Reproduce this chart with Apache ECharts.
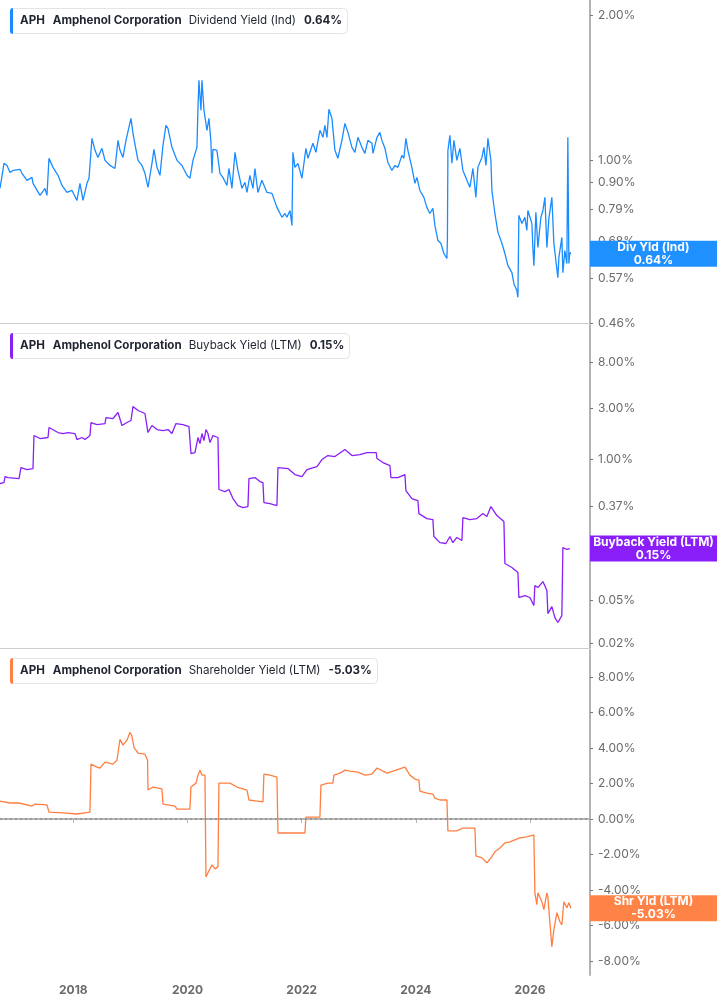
<!DOCTYPE html>
<html>
<head>
<meta charset="utf-8">
<title>APH yields</title>
<script src="https://cdn.jsdelivr.net/npm/echarts@6/dist/echarts.min.js"></script>
<style>
  html, body { margin: 0; padding: 0; background: #fff; }
  #chart { width: 717px; height: 1005px; }
</style>
</head>
<body>
<div id="chart"></div>
<script>
// [decimal year, yield %]
const divYield = [
  [2016.715,0.875],[2016.785,0.986],[2016.838,0.976],[2016.890,0.944],[2016.943,0.953],[2017.065,0.958],[2017.100,0.940],
  [2017.188,0.909],[2017.275,0.922],[2017.293,0.896],[2017.416,0.846],[2017.503,0.875],[2017.538,0.846],[2017.573,1.010],
  [2017.643,0.967],[2017.731,0.931],[2017.801,0.887],[2017.888,0.858],[2017.976,0.866],[2018.063,0.826],[2018.116,0.896],
  [2018.169,0.826],[2018.239,0.896],[2018.274,0.918],[2018.326,1.111],[2018.379,1.049],[2018.431,1.014],[2018.501,1.059],
  [2018.554,1.000],[2018.641,0.976],[2018.729,0.962],[2018.782,1.100],[2018.817,1.049],[2018.869,1.014],[2018.922,1.100],
  [2018.957,1.090],[2019.009,1.222],[2019.044,1.138],[2019.132,1.000],[2019.202,0.976],[2019.254,0.940],[2019.307,0.879],
  [2019.377,0.986],[2019.412,1.054],[2019.465,0.967],[2019.517,0.931],[2019.570,1.074],[2019.622,1.182],[2019.657,1.165],
  [2019.727,1.064],[2019.815,1.000],[2019.902,0.976],[2019.990,0.931],[2020.042,0.918],[2020.095,1.000],[2020.165,1.064],
  [2020.183,1.289],[2020.200,1.466],[2020.235,1.270],[2020.253,1.466],[2020.288,1.270],[2020.340,1.154],[2020.375,1.222],
  [2020.410,1.090],[2020.428,0.940],[2020.445,1.054],[2020.515,1.049],[2020.568,0.940],[2020.620,0.922],[2020.690,0.887],
  [2020.725,0.962],[2020.778,0.875],[2020.831,1.039],[2020.883,0.953],[2020.953,0.875],[2021.006,0.900],[2021.041,0.858],
  [2021.093,0.931],[2021.146,0.875],[2021.181,0.962],[2021.233,0.858],[2021.303,0.909],[2021.391,0.858],[2021.479,0.854],
  [2021.566,0.799],[2021.654,0.762],[2021.706,0.776],[2021.741,0.762],[2021.794,0.787],[2021.829,0.733],[2021.846,1.039],
  [2021.881,0.967],[2021.934,0.986],[2022.004,0.918],[2022.074,1.059],[2022.109,1.010],[2022.197,1.085],[2022.249,1.039],
  [2022.319,1.154],[2022.372,1.116],[2022.407,1.182],[2022.442,1.116],[2022.477,1.276],[2022.529,1.222],[2022.582,1.049],
  [2022.634,1.010],[2022.704,1.100],[2022.757,1.193],[2022.810,1.143],[2022.880,1.064],[2022.932,1.039],[2022.985,1.116],
  [2023.055,1.064],[2023.107,1.034],[2023.160,1.100],[2023.230,1.085],[2023.248,1.034],[2023.318,1.116],[2023.370,1.143],
  [2023.405,1.100],[2023.458,1.059],[2023.510,0.990],[2023.580,0.953],[2023.633,0.976],[2023.685,0.967],[2023.755,1.024],
  [2023.790,1.010],[2023.825,1.111],[2023.860,1.049],[2023.930,0.967],[2023.983,0.896],[2024.018,0.922],[2024.070,0.866],
  [2024.140,0.838],[2024.193,0.799],[2024.245,0.776],[2024.298,0.795],[2024.333,0.733],[2024.386,0.682],[2024.438,0.673],
  [2024.491,0.641],[2024.543,0.626],[2024.552,0.682],[2024.561,1.049],[2024.596,1.127],[2024.631,0.986],[2024.666,1.100],
  [2024.718,1.000],[2024.771,1.059],[2024.824,0.953],[2024.894,0.909],[2024.946,0.879],[2024.999,0.962],[2025.051,0.838],
  [2025.086,0.967],[2025.157,1.014],[2025.192,1.064],[2025.227,0.976],[2025.262,1.111],[2025.314,1.000],[2025.332,0.866],
  [2025.384,0.776],[2025.437,0.709],[2025.507,0.673],[2025.559,0.641],[2025.612,0.605],[2025.682,0.585],[2025.717,0.555],
  [2025.769,0.537],[2025.787,0.520],[2025.804,0.769],[2025.857,0.740],[2025.909,0.762],[2025.944,0.716],[2025.962,0.787],
  [2026.032,0.740],[2026.049,0.660],[2026.067,0.605],[2026.102,0.780],[2026.137,0.660],[2026.190,0.762],[2026.225,0.787],
  [2026.260,0.838],[2026.295,0.660],[2026.330,0.758],[2026.382,0.838],[2026.417,0.673],[2026.452,0.620],[2026.487,0.571],
  [2026.505,0.629],[2026.557,0.692],[2026.575,0.585],[2026.610,0.650],[2026.645,0.611],[2026.662,1.116],[2026.680,0.611],
  [2026.697,0.644],[2026.715,0.640]
];

const buybackYield = [
  [2016.715,0.600],[2016.785,0.612],[2016.803,0.696],[2016.855,0.681],[2017.048,0.667],[2017.083,0.843],[2017.188,0.808],
  [2017.293,0.825],[2017.310,1.668],[2017.416,1.565],[2017.556,1.599],[2017.573,1.978],[2017.731,1.778],[2017.818,1.741],
  [2017.906,1.778],[2018.028,1.741],[2018.063,1.532],[2018.151,1.599],[2018.204,1.532],[2018.291,1.668],[2018.309,2.201],
  [2018.414,2.109],[2018.554,2.154],[2018.571,2.448],[2018.694,2.397],[2018.782,2.724],[2018.852,2.064],[2018.939,2.201],
  [2019.009,2.297],[2019.044,3.095],[2019.132,2.843],[2019.254,2.667],[2019.307,1.778],[2019.377,2.064],[2019.465,1.896],
  [2019.570,1.856],[2019.657,1.896],[2019.727,1.741],[2019.797,2.154],[2019.920,2.109],[2020.025,2.021],[2020.060,1.137],
  [2020.130,1.161],[2020.183,1.599],[2020.218,1.406],[2020.253,1.741],[2020.288,1.500],[2020.323,1.896],[2020.358,1.741],
  [2020.393,1.437],[2020.445,1.668],[2020.533,1.599],[2020.550,0.528],[2020.655,0.505],[2020.725,0.528],[2020.796,0.435],
  [2020.883,0.375],[2020.971,0.359],[2021.058,0.367],[2021.076,0.667],[2021.181,0.681],[2021.268,0.625],[2021.321,0.612],
  [2021.338,0.400],[2021.444,0.391],[2021.566,0.375],[2021.584,0.843],[2021.759,0.825],[2021.881,0.726],[2022.004,0.696],
  [2022.092,0.808],[2022.267,0.861],[2022.354,1.000],[2022.459,1.089],[2022.582,1.066],[2022.757,1.238],[2022.880,1.089],
  [2023.020,1.112],[2023.142,1.161],[2023.305,1.161],[2023.318,1.022],[2023.423,0.938],[2023.545,0.880],[2023.563,0.681],
  [2023.685,0.681],[2023.808,0.726],[2023.825,0.516],[2023.930,0.435],[2024.035,0.417],[2024.053,0.316],[2024.193,0.284],
  [2024.298,0.278],[2024.316,0.194],[2024.421,0.170],[2024.526,0.167],[2024.596,0.194],[2024.648,0.170],[2024.718,0.190],
  [2024.806,0.178],[2024.824,0.290],[2024.946,0.278],[2025.069,0.284],[2025.174,0.316],[2025.244,0.297],[2025.314,0.367],
  [2025.419,0.303],[2025.542,0.267],[2025.559,0.109],[2025.682,0.100],[2025.787,0.0899],[2025.804,0.0528],[2025.909,0.0550],
  [2025.997,0.0528],[2026.067,0.0445],[2026.084,0.0681],[2026.137,0.0653],[2026.225,0.0742],[2026.295,0.0612],
  [2026.312,0.0375],[2026.382,0.0435],[2026.435,0.0344],[2026.487,0.0310],[2026.557,0.0359],[2026.575,0.153],
  [2026.645,0.147],[2026.697,0.150]
];

const shrYield = [
  [2016.715,1.01],[2016.890,0.90],[2017.048,0.90],[2017.083,0.79],[2017.275,0.73],[2017.328,0.84],[2017.538,0.79],
  [2017.573,0.39],[2017.818,0.34],[2018.063,0.28],[2018.081,0.39],[2018.291,0.39],[2018.309,3.09],[2018.414,2.92],
  [2018.466,2.87],[2018.554,3.20],[2018.694,3.09],[2018.764,3.31],[2018.817,4.49],[2018.869,4.16],[2018.939,4.44],
  [2018.992,4.89],[2019.027,4.66],[2019.062,4.04],[2019.132,3.71],[2019.254,3.65],[2019.300,3.31],[2019.307,1.63],
  [2019.394,1.80],[2019.552,1.69],[2019.570,0.84],[2019.780,0.73],[2019.815,0.56],[2020.042,0.56],[2020.060,1.80],
  [2020.148,2.02],[2020.183,2.47],[2020.218,2.75],[2020.253,2.47],[2020.305,2.47],[2020.323,-3.26],[2020.358,-3.03],
  [2020.428,-2.58],[2020.480,-2.81],[2020.533,-2.70],[2020.550,2.02],[2020.743,2.02],[2020.866,1.80],[2021.041,1.63],
  [2021.076,1.07],[2021.216,1.01],[2021.321,0.96],[2021.338,2.53],[2021.444,2.47],[2021.566,2.36],[2021.584,-0.79],
  [2021.794,-0.79],[2022.056,-0.79],[2022.074,0.11],[2022.319,0.11],[2022.337,1.91],[2022.459,2.02],[2022.547,2.02],
  [2022.564,2.47],[2022.669,2.58],[2022.757,2.75],[2022.845,2.70],[2022.985,2.64],[2023.107,2.47],[2023.230,2.53],
  [2023.318,2.87],[2023.493,2.58],[2023.598,2.70],[2023.808,2.92],[2023.895,2.47],[2023.983,2.25],[2024.053,2.19],
  [2024.070,1.57],[2024.193,1.46],[2024.298,1.40],[2024.333,1.18],[2024.421,1.07],[2024.543,1.07],[2024.561,-0.67],
  [2024.718,-0.67],[2024.824,-0.51],[2025.034,-0.51],[2025.051,-2.08],[2025.157,-2.19],[2025.244,-2.47],[2025.314,-2.19],
  [2025.384,-1.85],[2025.472,-1.63],[2025.559,-1.35],[2025.647,-1.29],[2025.822,-1.07],[2025.944,-1.01],[2026.067,-0.90],
  [2026.084,-4.16],[2026.119,-4.83],[2026.137,-4.16],[2026.207,-4.66],[2026.242,-5.11],[2026.295,-4.16],[2026.312,-4.38],
  [2026.347,-5.84],[2026.382,-7.19],[2026.417,-6.24],[2026.470,-5.28],[2026.522,-5.79],[2026.557,-5.96],[2026.592,-4.66],
  [2026.645,-5.00],[2026.680,-4.72],[2026.715,-5.03]
];

const divTicks = [0.46, 0.57, 0.68, 0.79, 0.90, 1.00, 2.00];
const buybackTicks = [0.02, 0.05, 0.14, 0.37, 1.00, 3.00, 8.00];
const shrTicks = [-8, -6, -4, -2, 0, 2, 4, 6, 8];
const yearTicks = [2018, 2020, 2022, 2024, 2026];

const panels = [
  { metric: 'Dividend Yield (Ind)', tag: 'Div Yld (Ind)', color: '#1a8cff', tagColor: '#1e90ff', data: divYield,
    ticks: divTicks, type: 'log', min: 0.46, max: 2.15, top: 0, height: 323 },
  { metric: 'Buyback Yield (LTM)', tag: 'Buyback Yield (LTM)', color: '#8a1ff6', tagColor: '#8a1ef8', data: buybackYield,
    ticks: buybackTicks, type: 'log', min: 0.018, max: 17.6, top: 325, height: 323 },
  { metric: 'Shareholder Yield (LTM)', tag: 'Shr Yld (LTM)', color: '#ff7f41', tagColor: '#ff8347', data: shrYield,
    ticks: shrTicks, type: 'value', min: -8.79, max: 9.52, top: 650, height: 325 }
];

const FONT = 'Inter, "Noto Sans", sans-serif';
const fmtPct = v => Number(v).toFixed(2) + '%';

const chart = echarts.init(document.getElementById('chart'), null, { renderer: 'canvas' });

const grid = [], xAxis = [], yAxis = [], series = [], title = [];

panels.forEach(function (p, i) {
  const last = p.data[p.data.length - 1][1];
  const isBottom = i === panels.length - 1;

  grid.push({ left: 0, right: 127, top: p.top, height: p.height });

  xAxis.push({
    gridIndex: i,
    type: 'value',
    min: 2016.715,
    max: 2027.05,
    axisLine: { show: true, lineStyle: { color: isBottom ? '#b4b4b4' : '#cfcfcf', width: isBottom ? 2 : 1 } },
    axisTick: { show: isBottom, length: 4, customValues: yearTicks, lineStyle: { color: '#b4b4b4', width: 1 } },
    axisLabel: {
      show: isBottom, customValues: yearTicks, formatter: v => String(Math.round(v)),
      color: '#6b6b6b', fontSize: 12, fontWeight: 'bold', fontFamily: FONT, margin: 9
    },
    splitLine: { show: false }
  });

  yAxis.push({
    gridIndex: i,
    type: p.type,
    logBase: 10,
    min: p.min,
    max: p.max,
    position: 'right',
    axisLine: { show: true, lineStyle: { color: '#b4b4b4', width: 2 } },
    axisTick: { show: true, length: 3, customValues: p.ticks, lineStyle: { color: '#777' } },
    axisLabel: {
      customValues: p.ticks, formatter: fmtPct, color: '#6b6b6b',
      fontSize: 12, fontFamily: FONT, margin: 8
    },
    splitLine: { show: false }
  });

  // current-value tag sitting on the right axis
  const markData = [{
    yAxis: last,
    lineStyle: { color: 'rgba(0,0,0,0)', width: 1 },
    label: {
      show: true,
      position: 'end',
      distance: 0,
      formatter: '{a|' + p.tag + '}\n{a|' + fmtPct(last) + '}',
      backgroundColor: p.tagColor,
      padding: [0, 5],
      rich: {
        a: { width: 117, align: 'center', color: '#fff', fontWeight: 'bold',
             fontSize: 12, lineHeight: 13, fontFamily: FONT }
      }
    }
  }];
  if (p.type === 'value') {
    markData.unshift({
      yAxis: 0,
      lineStyle: { color: '#8f8f8f', type: [2, 3], width: 1.5 },
      label: { show: false }
    });
  }

  series.push({
    name: p.metric,
    type: 'line',
    xAxisIndex: i,
    yAxisIndex: i,
    data: p.data,
    showSymbol: false,
    symbol: 'none',
    animation: false,
    clip: false,
    lineStyle: { color: p.color, width: 1.3 },
    itemStyle: { color: p.color },
    markLine: { silent: true, symbol: ['none', 'none'], animation: false, data: markData }
  });

  const fs = 11.6;
  title.push({
    left: 10,
    top: p.top + 8,
    text: '{bar|}{t|APH}{n|Amphenol Corporation}{m|' + p.metric + '}{v|' + fmtPct(last) + '}',
    backgroundColor: '#fff',
    borderColor: '#e4e4e4',
    borderWidth: 1,
    borderRadius: 4,
    padding: [0, 6, 0, 0],
    textStyle: {
      fontFamily: FONT,
      rich: {
        bar: { width: 3, height: 26, backgroundColor: p.color, borderRadius: [3, 0, 0, 3] },
        t: { fontWeight: 'bold', fontSize: fs, color: '#1f2430', lineHeight: 26, padding: [0, 0, 0, 7], fontFamily: FONT },
        n: { fontWeight: 'bold', fontSize: fs, color: '#1f2430', lineHeight: 26, padding: [0, 0, 0, 8], fontFamily: FONT },
        m: { fontWeight: 'normal', fontSize: fs, color: '#1f2430', lineHeight: 26, padding: [0, 0, 0, 7], fontFamily: FONT },
        v: { fontWeight: 'bold', fontSize: fs, color: '#1f2430', lineHeight: 26, padding: [0, 0, 0, 8], fontFamily: FONT }
      }
    }
  });
});

chart.setOption({
  backgroundColor: '#fff',
  animation: false,
  textStyle: { fontFamily: FONT },
  title: title,
  grid: grid,
  xAxis: xAxis,
  yAxis: yAxis,
  series: series
});

window.addEventListener('resize', function () { chart.resize(); });
</script>
</body>
</html>
